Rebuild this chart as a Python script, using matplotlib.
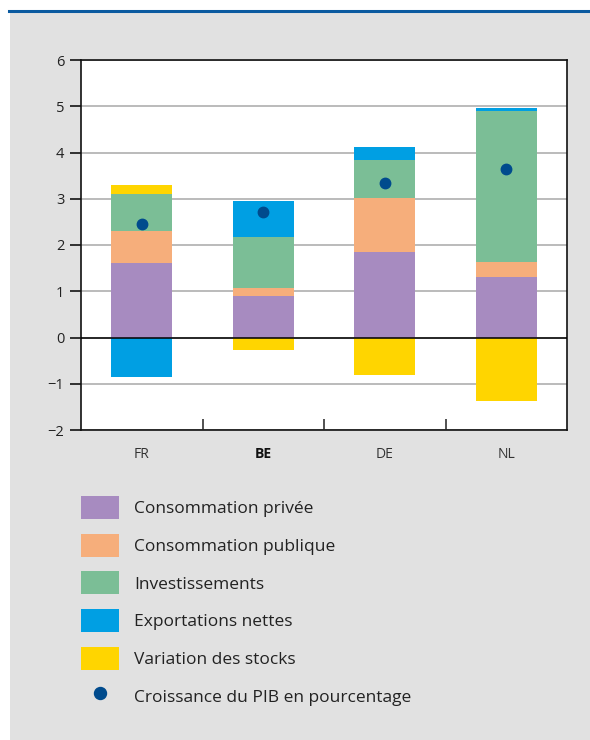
import numpy as np
import matplotlib.pyplot as plt
from matplotlib.patches import Rectangle
from matplotlib.lines import Line2D

plt.rcParams['font.family'] = ['Open Sans', 'DejaVu Sans']

# Contributions to GDP growth (percentage points)
countries = ['FR', 'BE', 'DE', 'NL']
conso_privee = [1.62, 0.90, 1.85, 1.31]
conso_publique = [0.69, 0.16, 1.17, 0.33]
investissements = [0.80, 1.12, 0.82, 3.26]
export_nettes = [-0.86, 0.78, 0.28, 0.07]
var_stocks = [0.19, -0.27, -0.82, -1.37]
croissance_pib = [2.46, 2.72, 3.33, 3.64]

labels = ['Consommation privée', 'Consommation publique', 'Investissements',
          'Exportations nettes', 'Variation des stocks']
colors = ['#A78BC0', '#F6AE7B', '#7BBE96', '#009FE3', '#FFD500']
dot_color = '#004B8D'

fig = plt.figure(figsize=(5.9, 7.4), dpi=100)
fig.patch.set_facecolor('white')

# grey panel and blue top rule
fig.add_artist(Rectangle((10 / 590, 0), 1, 728 / 740, transform=fig.transFigure,
                         facecolor='#E1E1E1', edgecolor='none', zorder=0))
fig.add_artist(Line2D([9 / 590, 1], [729 / 740, 729 / 740], transform=fig.transFigure,
                      color='#0A5AA0', lw=2.2, zorder=1))

ax = fig.add_axes([81 / 590, 310 / 740, 486 / 590, 370 / 740])
ax.set_facecolor('white')

x = np.arange(len(countries))
width = 0.5
series = [conso_privee, conso_publique, investissements, export_nettes, var_stocks]
pos_base = np.zeros(len(countries))
neg_base = np.zeros(len(countries))
handles = []
for vals, lab, col in zip(series, labels, colors):
    vals = np.array(vals)
    bottom = np.where(vals >= 0, pos_base, neg_base)
    b = ax.bar(x, vals, width, bottom=bottom, color=col, label=lab, zorder=3, linewidth=0)
    handles.append(b)
    pos_base = pos_base + np.where(vals >= 0, vals, 0)
    neg_base = neg_base + np.where(vals < 0, vals, 0)

dots, = ax.plot(x, croissance_pib, 'o', color=dot_color, markersize=7.5, zorder=4,
                linestyle='none', label='Croissance du PIB en pourcentage')
handles.append(dots)

ax.set_xlim(-0.5, len(countries) - 0.5)
ax.set_ylim(-2, 6)
ax.set_yticks(range(-2, 7))
ax.set_yticklabels([str(v).replace('-', '\u2212') for v in range(-2, 7)])
ax.yaxis.grid(True, color='#A8A8A8', lw=1.1, zorder=1)
ax.axhline(0, color='black', lw=1.1, zorder=5)

ax.set_xticks(x)
ax.set_xticklabels(countries)
ax.set_xticks(np.arange(0.5, len(countries) - 1, 1), minor=True)
ax.tick_params(axis='x', which='major', length=0, pad=12, labelsize=10, labelcolor='#333333')
ax.tick_params(axis='x', which='minor', direction='in', length=8, width=1.2, color='#333333')
ax.tick_params(axis='y', length=8, width=1.1, labelsize=10.5, labelcolor='#222222', pad=4)
for t in ax.get_xticklabels():
    if t.get_text() == 'BE':
        t.set_fontweight('bold')
        t.set_color('#111111')
for s in ax.spines.values():
    s.set_linewidth(1.2)
    s.set_color('#111111')

fig.legend(handles=handles, labels=labels + ['Croissance du PIB en pourcentage'],
           loc='upper left', bbox_to_anchor=(81 / 590, 1 - 496 / 740),
           frameon=False, fontsize=12.5, handlelength=2.2, handleheight=1.66,
           handletextpad=0.85, labelspacing=0.85, borderaxespad=0, borderpad=0,
           labelcolor='#222222', markerscale=1.15)

fig.savefig('out.png', dpi=100, facecolor=fig.get_facecolor())
